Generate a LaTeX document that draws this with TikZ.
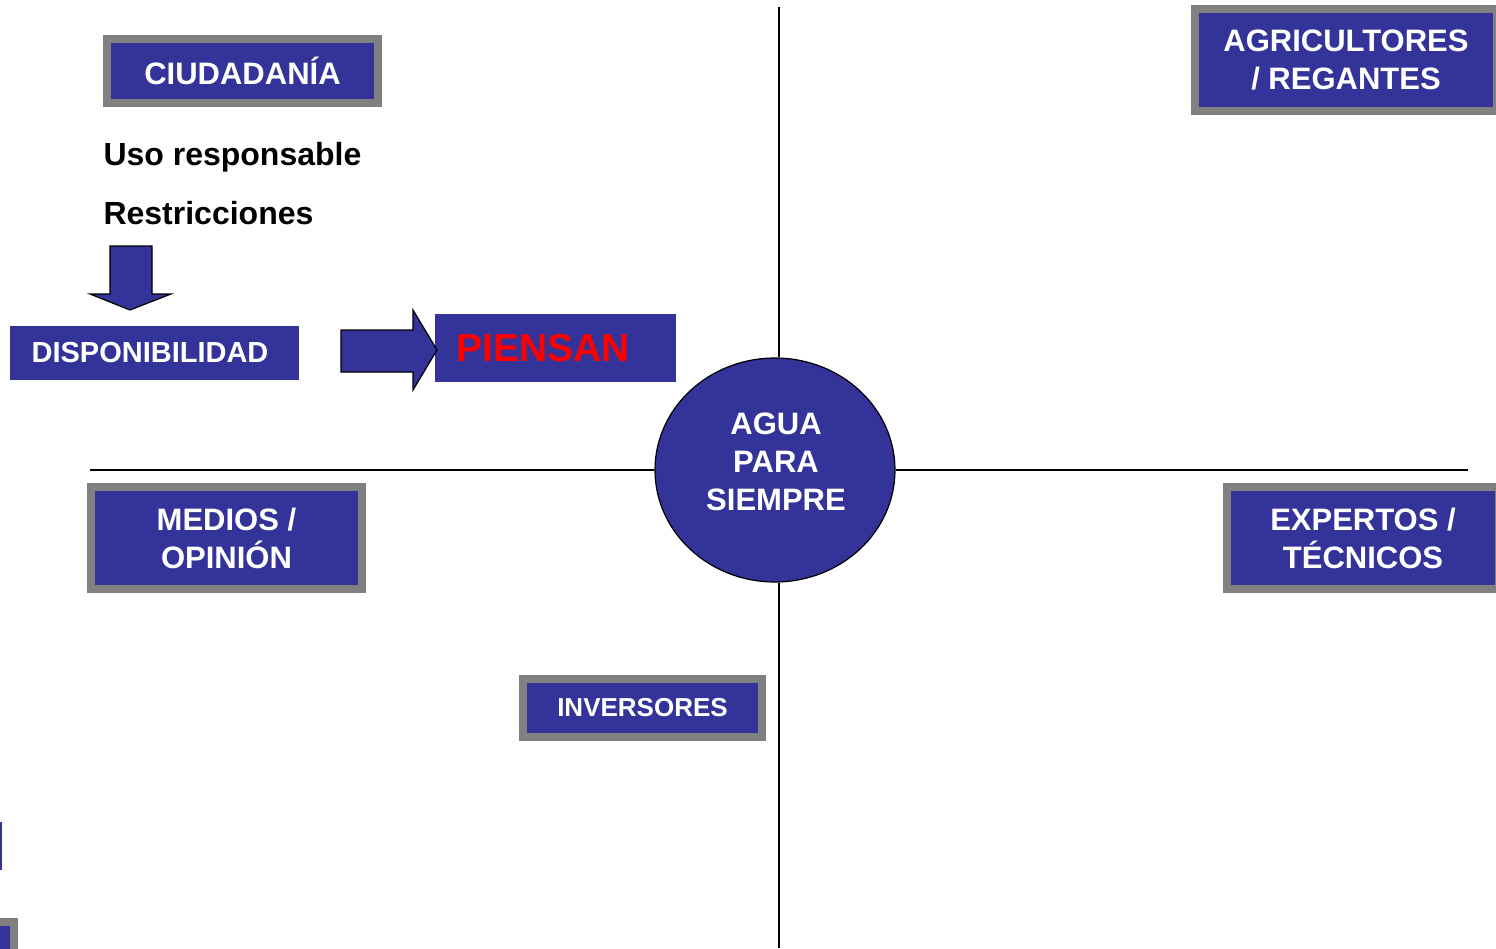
\documentclass[tikz,border=0pt]{standalone}
\usepackage{fontspec}
\setmainfont{Liberation Sans}
\usepackage{tikz}
\usetikzlibrary{shapes.geometric}

\definecolor{slideblue}{RGB}{51,51,153}
\definecolor{framegray}{RGB}{128,128,128}

\begin{document}
\begin{tikzpicture}[x=1pt,y=-1pt,
	every node/.style={font=\bfseries\fontsize{31}{38}\selectfont, text=white, align=center},
	actor/.style={draw=framegray, line width=8pt, fill=slideblue, inner sep=0pt},
	plain/.style={fill=slideblue, inner sep=0pt},
	blockarrow/.style={fill=slideblue, draw=black, line width=1.2pt, line join=miter},
	axis/.style={draw=black, line width=1.2pt}]
	
	\useasboundingbox (0,0) rectangle (1496,948);
	
	% centre
	\node[draw=black, line width=1.2pt, fill=slideblue, ellipse, minimum width=240pt, minimum height=224pt, inner sep=0pt] (Agua) at (775,470) {};
	\node (AguaText) at (776,462) {AGUA\\PARA\\SIEMPRE};
	\coordinate (Top) at (779,7);
	\coordinate (Bottom) at (779,948);
	\coordinate (Left) at (90,470);
	\coordinate (Right) at (1468,470);
	\draw[axis] (Top) -- (Agua.north -| Top);
	\draw[axis] (Agua.south -| Bottom) -- (Bottom);
	\draw[axis] (Left) -- (Agua.west);
	\draw[axis] (Agua.east) -- (Right);
	
	% actors
	\node[actor, minimum width=271pt, minimum height=64pt] (Ciudadania) at (242.5,71) {CIUDADANÍA};
	\node[actor, minimum width=302pt, minimum height=102pt] (Agricultores) at (1346,60) {AGRICULTORES\\/ REGANTES};
	\node[actor, minimum width=271pt, minimum height=102pt] (Medios) at (226.5,538) {MEDIOS /\\OPINIÓN};
	\node[actor, minimum width=272pt, minimum height=102pt] (Expertos) at (1363,538) {EXPERTOS /\\TÉCNICOS};
	\node[actor, minimum width=239pt, minimum height=58pt, font=\bfseries\fontsize{26}{30}\selectfont] (Inversores) at (642.5,708) {INVERSORES};
	
	% ciudadania
	\node[text=black, anchor=west, font=\bfseries\fontsize{32}{38}\selectfont] (Uso) at (100,157) {Uso responsable};
	\node[text=black, anchor=west, font=\bfseries\fontsize{32}{38}\selectfont] (Restr) at (100,213) {Restricciones};
	\node[plain, minimum width=289pt, minimum height=54pt, font=\bfseries\fontsize{29}{32}\selectfont] (Disp) at (154.5,353) {\hspace*{-9pt}DISPONIBILIDAD};
	\node[plain, minimum width=241pt, minimum height=68pt, font=\bfseries\fontsize{39}{46}\selectfont, text=red, anchor=west, text width=220pt, align=left] (Piensan) at (435,348) {\hspace*{11pt}PIENSAN};
	
	\draw[blockarrow] (110,246) -- (152,246) -- (152,294) -- (171,294) -- (130,310) -- (90,294) -- (110,294) -- cycle;
	\draw[blockarrow] (341,330) -- (413,330) -- (413,310) -- (437,350) -- (413,390) -- (413,372) -- (341,372) -- cycle;
	
	% cut-off boxes at the edge
	\fill[slideblue] (0,822) rectangle (2,870);
	\draw[draw=framegray, line width=8pt, fill=slideblue] (-20,922) rectangle (14,960);
	
\end{tikzpicture}
\end{document}
